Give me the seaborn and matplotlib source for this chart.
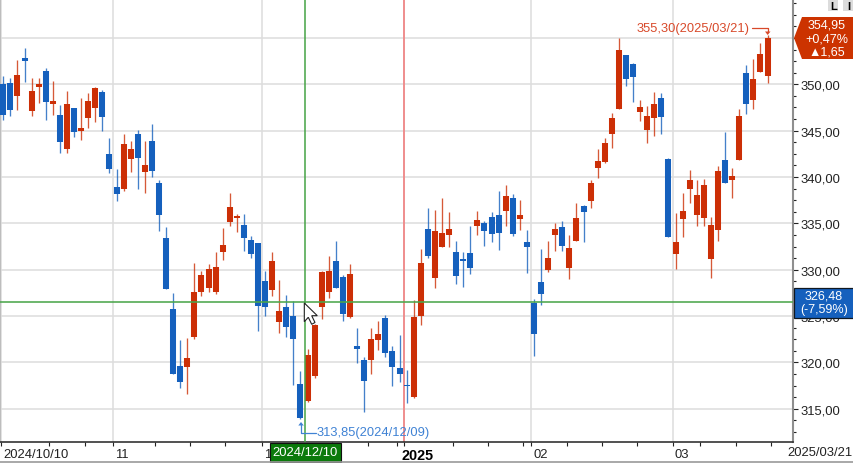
import matplotlib
matplotlib.use("Agg")
import matplotlib.pyplot as plt
import matplotlib.transforms as mtrans
from matplotlib.lines import Line2D
from matplotlib.patches import Polygon, Rectangle
import numpy as np
import pandas as pd
import seaborn as sns

highs = [350.86,350.65,352.66,353.88,350.65,350.65,351.73,350.40,347.77,349.32,347.41,348.49,349.06,349.68,349.42,
         344.21,340.86,344.68,343.85,345.04,343.85,345.76,339.64,334.57,327.48,322.37,322.63,330.72,329.89,330.61,
         331.87,334.53,338.24,335.97,335.97,333.67,332.88,329.89,331.94,328.92,327.27,326.58,319.06,321.44,324.10,
         329.89,331.44,333.13,329.42,330.61,323.67,320.61,323.67,324.42,325.11,321.80,322.99,319.17,326.76,332.19,
         336.69,336.40,337.77,336.22,333.13,331.94,334.68,336.33,335.25,336.22,338.45,339.10,338.13,337.52,334.32,
         326.80,332.19,333.13,335.00,335.25,333.71,337.16,337.01,339.64,343.02,344.17,346.94,354.96,353.13,352.30,
         348.35,347.63,349.21,349.06,342.01,336.12,338.24,340.76,339.64,339.75,335.72,341.15,344.82,340.97,347.30,
         352.05,352.77,354.42,355.30]
lows = [346.15,346.58,347.19,350.29,346.62,347.99,346.12,346.73,342.55,342.55,344.35,343.99,345.29,345.90,344.93,
        340.43,337.45,338.53,340.50,338.74,338.27,340.04,334.21,327.91,318.74,317.27,316.58,322.52,327.12,327.55,
        327.41,331.01,334.68,334.10,332.05,331.26,323.38,325.04,327.19,323.17,322.73,317.55,313.85,315.68,318.27,
        324.71,326.94,328.02,324.46,324.82,319.93,314.68,318.74,321.33,320.61,317.41,317.84,315.61,316.12,324.06,
        331.22,328.02,332.41,332.41,328.49,328.13,329.57,333.74,332.52,333.02,332.09,334.68,333.60,334.32,329.68,
        320.72,326.22,329.78,332.05,332.05,328.96,333.13,333.02,336.69,339.86,341.47,343.13,347.34,349.82,348.13,
        346.01,343.63,344.46,344.68,333.49,330.04,333.49,337.23,334.68,334.71,329.10,333.13,339.32,337.70,341.83,
        346.83,347.34,351.29,350.18]
opens = [350.04,350.14,348.78,352.81,347.09,349.71,351.47,347.91,346.69,343.02,347.41,344.96,346.37,347.45,349.21,
         342.52,338.96,338.74,341.94,344.68,340.50,343.85,339.32,333.45,325.72,319.64,319.53,322.77,327.55,328.02,
         327.55,331.94,335.18,335.54,334.78,333.24,332.88,328.81,327.81,324.32,325.97,325.00,317.63,315.86,318.49,
         326.01,327.55,330.97,329.17,324.89,321.76,320.22,320.25,322.41,324.75,321.19,319.39,317.59,316.22,325.04,
         334.42,329.10,332.41,333.74,331.91,331.19,331.80,334.71,335.00,335.72,335.86,336.37,337.73,335.50,332.99,
         326.37,328.71,329.93,333.74,334.64,330.18,333.13,336.91,337.45,340.97,341.58,344.60,347.34,353.13,352.19,
         346.98,345.04,346.40,348.49,341.94,331.73,335.43,338.74,335.90,335.54,331.15,334.24,341.80,339.71,341.83,
         351.22,348.31,351.37,350.90]
closes = [346.73,347.23,350.97,352.55,349.32,350.04,348.06,348.24,343.74,347.88,344.82,345.29,348.24,349.57,346.47,
          340.86,338.13,343.60,343.02,342.09,341.33,340.65,335.90,327.91,318.74,317.91,320.47,327.63,329.42,330.04,
          330.25,332.63,336.80,335.83,333.38,331.73,326.12,325.94,330.97,325.58,323.85,322.55,313.96,320.83,324.06,
          329.78,329.89,328.02,325.18,329.53,321.47,318.02,322.48,323.09,321.01,319.46,318.74,317.41,324.89,330.72,
          331.44,334.17,333.96,334.42,329.35,330.90,330.18,335.36,334.21,333.88,333.99,337.99,333.85,335.86,332.41,
          323.02,327.41,331.22,334.42,332.55,332.37,335.61,336.22,339.32,341.69,343.71,346.33,353.74,350.54,350.79,
          347.55,346.58,347.88,346.51,333.49,332.99,336.33,339.64,338.09,339.17,334.78,340.61,339.32,340.14,346.58,
          347.91,350.54,353.24,354.95]

price_ticks = [315, 320, 325, 330, 335, 340, 345, 350, 355]
price_labels = ["315,00", "320,00", "325,00", "330,00", "335,00", "340,00", "345,00", "350,00", ""]
month_pos = [-0.3, 15.55, 36.5, 56.6, 74.6, 94.6]
month_labels = ["2024/10/10", "11", "12", "2025", "02", "03"]
minor_pos = [6.5, 11.5, 21.4, 26.4, 31.4, 41.5, 46.5, 51.5, 55.6, 63.5, 68.5, 73.5,
             79.6, 84.6, 89.6, 98.5, 103.5, 108.5]

RED, BLUE = "#CC2F06", "#1560BD"
FONT = ["Liberation Sans", "DejaVu Sans"]
W, H = 854, 464

sns.set_theme(style="whitegrid", rc={"grid.color": "#DDDDDD", "grid.linewidth": 1.1,
                                     "axes.edgecolor": "#333333"})
plt.rcParams["font.family"] = FONT

fig = plt.figure(figsize=(W / 100, H / 100), dpi=100, facecolor="white")
ax = fig.add_axes([0, 21 / H, 793.5 / W, 443 / H])

idx = np.arange(len(highs))
o, c = np.array(opens), np.array(closes)
dirs = np.where(c >= o, "up", "down")
palette = {"up": RED, "down": BLUE}

wick = pd.concat([pd.DataFrame({"i": idx, "price": highs, "dir": dirs}),
                  pd.DataFrame({"i": idx, "price": lows, "dir": dirs})])
body = pd.concat([pd.DataFrame({"i": idx, "price": opens, "dir": dirs}),
                  pd.DataFrame({"i": idx, "price": closes, "dir": dirs})])

sns.lineplot(data=wick, x="i", y="price", units="i", hue="dir", palette=palette, estimator=None,
             sort=False, lw=0.95, alpha=0.8, legend=False, ax=ax, zorder=3, solid_capstyle="butt")
sns.lineplot(data=body, x="i", y="price", units="i", hue="dir", palette=palette, estimator=None,
             sort=False, lw=4.35, legend=False, ax=ax, zorder=4, solid_capstyle="butt")

ax.set_xlim(-0.466, 111.67)
ax.set_ylim(311.41, 359.2)
ax.set_xlabel("")
ax.set_ylabel("")

ax.grid(True, which="major")
ax.yaxis.tick_right()
ax.set_yticks(price_ticks, price_labels)
ax.set_yticks(np.arange(312.5, 359, 1.25), minor=True)
ax.set_xticks(month_pos, month_labels)
ax.set_xticks(minor_pos, minor=True)
ax.tick_params(axis="y", which="major", length=3.4, width=0.8, color="#222222", pad=1.6,
               labelsize=9.4, labelcolor="#222222", right=True, left=False)
ax.tick_params(axis="y", which="minor", length=2.5, width=0.8, color="#222222", right=True, left=False)
ax.tick_params(axis="x", which="both", length=3, width=0.8, color="#222222", bottom=True)
ax.tick_params(axis="x", which="major", pad=1.0, labelsize=9.4, labelcolor="#222222")

for lab, txt in zip(ax.get_xticklabels(), month_labels):
    shift = -2 if txt == "2025" else 2
    lab.set_ha("left")
    lab.set_transform(lab.get_transform() + mtrans.ScaledTranslation(shift / 100, 0, fig.dpi_scale_trans))
    if txt == "2025":
        lab.set_fontweight("bold")
        lab.set_fontsize(10.4)
        lab.set_color("black")

ax.spines["top"].set_visible(False)
ax.spines["bottom"].set_color("#333333")
ax.spines["bottom"].set_linewidth(1.2)
ax.spines["right"].set_color("#8F8F8F")
ax.spines["right"].set_linewidth(1.5)
ax.spines["left"].set_color("#BDBDBD")
ax.spines["left"].set_linewidth(1.5)

# crosshair and reference lines
ax.axhline(326.48, color="#4CA64C", lw=1.15, zorder=6)
ax.axvline(42.68, color="#4CA64C", lw=1.15, zorder=6)
ax.axvline(56.6, color="#F28080", lw=1.2, zorder=2.5)


def px(x, y):
    return (x / W, 1 - y / H)


def fig_poly(points, **kw):
    fig.add_artist(Polygon([px(*p) for p in points], closed=True, transform=fig.transFigure, zorder=5, **kw))


def fig_line(xs, ys, **kw):
    pts = [px(a, b) for a, b in zip(xs, ys)]
    fig.add_artist(Line2D([p[0] for p in pts], [p[1] for p in pts], transform=fig.transFigure, zorder=6, **kw))


def fig_text(x, y, s, **kw):
    kw.setdefault("va", "center")
    kw.setdefault("family", FONT)
    return fig.text(*px(x, y), s, zorder=7, **kw)


# high / low annotations
LR, LB = "#D8492A", "#3F82D4"
fig_text(750, 29, "355,30(2025/03/21)", color=LR, ha="right", fontsize=9.3)
fig_line([752, 767.5, 767.5], [29.3, 29.3, 33], color=LR, lw=0.9)
fig_poly([(765, 32.5), (770.5, 32.5), (767.7, 36)], facecolor=LR, edgecolor="none")
fig_text(317, 433, "313,85(2024/12/09)", color=LB, ha="left", fontsize=9.3)
fig_line([316, 301, 301], [434, 434, 426], color=LB, lw=0.9)
fig_poly([(298.3, 426.5), (303.8, 426.5), (301, 423)], facecolor=LB, edgecolor="none")

# price tags
fig_poly([(794, 39), (802, 18), (854, 18), (854, 60), (802, 60)], facecolor="#CC3300", edgecolor="none")
fig_text(827, 26, "354,95", color="white", ha="center", fontsize=9.0)
fig_text(827, 39.5, "+0,47%", color="white", ha="center", fontsize=9.0)
fig_text(827, 52.5, "▲1,65", color="white", ha="center", fontsize=9.0)

fig.add_artist(Rectangle(px(794, 318.5), 60 / W, 30 / H, transform=fig.transFigure, facecolor=BLUE,
                         edgecolor="#101820", lw=0.9, zorder=5))
fig_text(824, 296.5, "326,48", color="white", ha="center", fontsize=9.0)
fig_text(824, 310, "(-7,59%)", color="white", ha="center", fontsize=9.0)

# date tag, last date, buttons, bottom rule
fig.add_artist(Rectangle(px(269.5, 462.5), 71.5 / W, 18.5 / H, transform=fig.transFigure, facecolor="#0B7A0B",
                         edgecolor="#111111", lw=0.8, zorder=5))
fig_text(305.3, 453.5, "2024/12/10", color="white", ha="center", fontsize=9.4)
fig_text(853, 453, "2025/03/21", color="#222222", ha="right", fontsize=9.4)
fig_line([0, W], [463, 463], color="#9A9A9A", lw=1.2)

for x0, x1, s in ((828, 838.5, "L"), (843, 854, "I")):
    fig.add_artist(Rectangle(px(x0, 12), (x1 - x0) / W, 11 / H, transform=fig.transFigure,
                             facecolor="#DCDCDC", edgecolor="none", zorder=5))
    fig_text((x0 + x1) / 2, 6.8, s, color="black", ha="center", fontsize=8, fontweight="bold")

# mouse pointer
fig_poly([(304.3, 304), (304.3, 322.7), (308.3, 318.3), (311.7, 325.3), (315, 323.5), (311.7, 316.7), (317.3, 316.7)],
         facecolor="white", edgecolor="#222222", lw=0.8)

fig.savefig("out.png", dpi=100)
